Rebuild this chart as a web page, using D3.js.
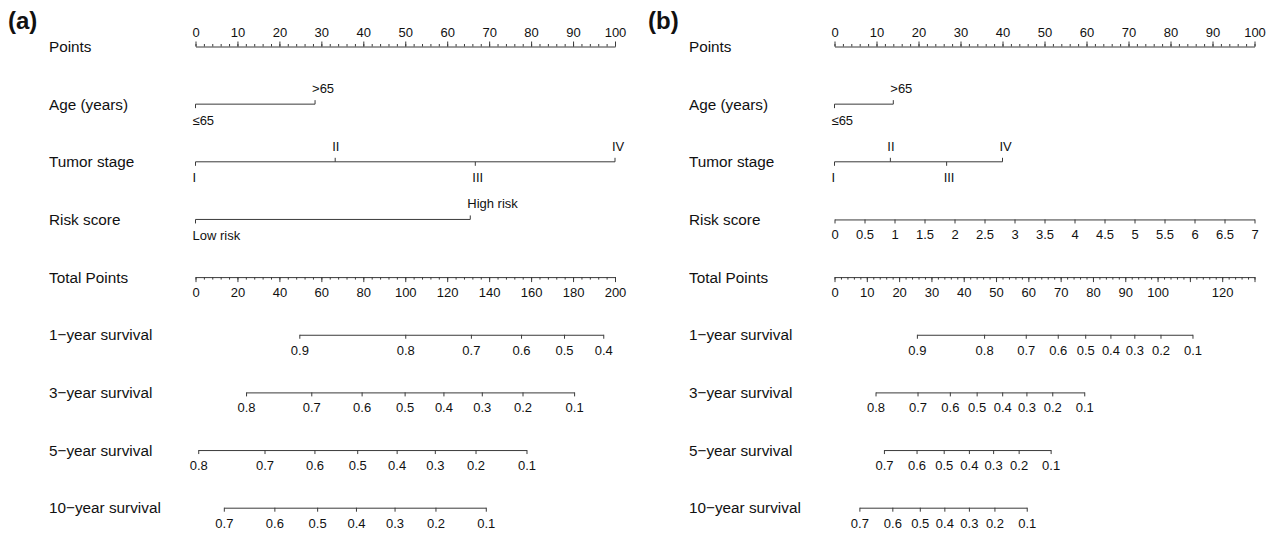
<!DOCTYPE html>
<html>
<head>
<meta charset="utf-8">
<script src="https://cdn.jsdelivr.net/npm/d3@7/dist/d3.min.js"></script>
<style>
  html, body { margin: 0; padding: 0; background: #fff; }
  svg { display: block; font-family: "Liberation Sans", Arial, Helvetica, sans-serif; }
</style>
</head>
<body>
<svg id="chart" width="1277" height="537"></svg>
<script>
// Row names of the nomogram (same for both models)
const rowNames = ["Points", "Age (years)", "Tumor stage", "Risk score", "Total Points",
  "1\u2212year survival", "3\u2212year survival", "5\u2212year survival", "10\u2212year survival"];

// Points scale tick labels
const pointsTicks = d3.range(0, 101, 10);
const pointsMinor = d3.range(0, 101, 2);

// Categorical predictors
const ageLabels = ["\u226465", ">65"];
const stageLabels = ["I", "II", "III", "IV"];
const riskLabelsA = ["Low risk", "High risk"];

// Model (a): points per category
const agePointsA = [0, 28.5];
const stagePointsA = [0, 33.3, 66.7, 100];
const riskPointsA = [0, 65.5];

// Model (a): total points axis
const totalMaxA = 200;
const totalTicksA = d3.range(0, 201, 20);
const totalMinorA = d3.range(0, 201, 4);

// Model (a): survival probabilities and their total-points positions
const surv1LabelsA = [0.9, 0.8, 0.7, 0.6, 0.5, 0.4];
const surv1PointsA = [49.5, 100, 131.3, 155.2, 175.7, 194.4];
const surv3LabelsA = [0.8, 0.7, 0.6, 0.5, 0.4, 0.3, 0.2, 0.1];
const surv3PointsA = [24.1, 55.2, 79.2, 99.7, 118.2, 136.5, 155.9, 180.5];
const surv5LabelsA = [0.8, 0.7, 0.6, 0.5, 0.4, 0.3, 0.2, 0.1];
const surv5PointsA = [1.3, 32.9, 56.7, 77.1, 95.9, 114.1, 133.5, 157.8];
const surv10LabelsA = [0.7, 0.6, 0.5, 0.4, 0.3, 0.2, 0.1];
const surv10PointsA = [13.5, 37.6, 58.0, 76.5, 94.9, 114.4, 138.4];

// Model (b): points per category, continuous risk score
const agePointsB = [0, 14];
const stagePointsB = [0, 13.3, 26.7, 40];
const riskScoreMaxB = 7;
const riskScoreTicksB = d3.range(0, 7.01, 0.5);

// Model (b): total points axis
const totalMaxB = 130;
const totalMajorB = d3.range(0, 131, 10);
const totalLabelsB = [0, 10, 20, 30, 40, 50, 60, 70, 80, 90, 100, 120];
const totalMinorB = d3.range(0, 131, 2);

// Model (b): survival probabilities and their total-points positions
const surv1LabelsB = [0.9, 0.8, 0.7, 0.6, 0.5, 0.4, 0.3, 0.2, 0.1];
const surv1PointsB = [25.5, 46.3, 59.2, 69.1, 77.6, 85.4, 92.8, 100.9, 110.8];
const surv3LabelsB = [0.8, 0.7, 0.6, 0.5, 0.4, 0.3, 0.2, 0.1];
const surv3PointsB = [12.7, 25.7, 35.7, 44.0, 51.9, 59.4, 67.4, 77.3];
const surv5LabelsB = [0.7, 0.6, 0.5, 0.4, 0.3, 0.2, 0.1];
const surv5PointsB = [15.3, 25.4, 33.8, 41.6, 49.1, 57.0, 66.9];
const surv10LabelsB = [0.7, 0.6, 0.5, 0.4, 0.3, 0.2, 0.1];
const surv10PointsB = [7.7, 17.9, 26.4, 34.0, 41.6, 49.5, 59.5];

const LINE = "#3a3a3a";
const TXT = "#111";
const ROW_FONT = 15.3;
const TICK_FONT = 13;

const svg = d3.select("#chart");
const rowY = d3.scalePoint().domain(rowNames).range([46.5, 507.7]);
const fmt1 = d3.format(".1f");

function styleAxis(sel) {
  sel.attr("font-family", null).attr("font-size", null);
  sel.selectAll("path.domain").attr("stroke", LINE).attr("stroke-width", 1);
  sel.selectAll(".tick line").attr("stroke", LINE).attr("stroke-width", 1);
  sel.selectAll(".tick text").attr("fill", TXT).attr("font-size", TICK_FONT);
}

// Axis with alternating tick directions for categorical predictors
function categoryAxis(g, scale, y, labels, pts) {
  const a = g.append("g").attr("class", "cat-axis");
  a.append("line")
    .attr("x1", scale(pts[0])).attr("x2", scale(pts[pts.length - 1]))
    .attr("y1", y).attr("y2", y)
    .attr("stroke", LINE).attr("stroke-width", 1);
  const items = labels.map((l, i) => ({ label: l, p: pts[i], dir: i % 2 === 0 ? 1 : -1 }));
  a.selectAll("line.tk").data(items).join("line").attr("class", "tk")
    .attr("x1", d => scale(d.p)).attr("x2", d => scale(d.p))
    .attr("y1", y).attr("y2", d => y + d.dir * 4)
    .attr("stroke", LINE).attr("stroke-width", 1);
  a.selectAll("text").data(items).join("text")
    .attr("x", d => scale(d.p) - 3)
    .attr("y", d => d.dir > 0 ? y + 20.5 : y - 11)
    .attr("text-anchor", "start")
    .attr("font-size", TICK_FONT).attr("fill", TXT)
    .text(d => d.label);
}

// Survival probability axis placed on the total-points scale
function survivalAxis(g, total, y, labels, pts) {
  const sub = total.copy()
    .domain([pts[0], pts[pts.length - 1]])
    .range([total(pts[0]), total(pts[pts.length - 1])]);
  g.append("g").attr("transform", `translate(0,${y})`)
    .call(d3.axisBottom(sub).tickValues(pts).tickFormat((d, i) => fmt1(labels[i]))
      .tickSize(4).tickPadding(6.8).tickSizeOuter(0))
    .call(styleAxis);
}

function drawPanel(cfg) {
  const g = svg.append("g");
  g.append("text").attr("x", cfg.tagX).attr("y", 28.5)
    .attr("font-size", 24).attr("font-weight", "bold").attr("fill", TXT).text(cfg.tag);

  g.selectAll("text.row").data(rowNames).join("text").attr("class", "row")
    .attr("x", cfg.labelX).attr("y", d => rowY(d) + 5.5)
    .attr("font-size", ROW_FONT).attr("fill", TXT).text(d => d);

  const pts = d3.scaleLinear().domain([0, 100]).range([cfg.x0, cfg.x1]);
  const yP = rowY(rowNames[0]);
  g.append("g").attr("transform", `translate(0,${yP})`)
    .call(d3.axisTop(pts).tickValues(pointsMinor).tickFormat("").tickSize(2.5).tickSizeOuter(0))
    .call(styleAxis);
  g.append("g").attr("transform", `translate(0,${yP})`)
    .call(d3.axisTop(pts).tickValues(pointsTicks).tickSize(5).tickPadding(5).tickSizeOuter(0))
    .call(styleAxis)
    .call(s => s.select("path.domain").remove());

  categoryAxis(g, pts, rowY(rowNames[1]), ageLabels, cfg.agePoints);
  categoryAxis(g, pts, rowY(rowNames[2]), stageLabels, cfg.stagePoints);
  cfg.drawRisk(g, pts, rowY(rowNames[3]));

  const total = d3.scaleLinear().domain([0, cfg.totalMax]).range([cfg.x0, cfg.x1]);
  const yT = rowY(rowNames[4]);
  g.append("g").attr("transform", `translate(0,${yT})`)
    .call(d3.axisBottom(total).tickValues(cfg.totalMinor).tickFormat("").tickSize(2.5).tickSizeOuter(0))
    .call(styleAxis);
  g.append("g").attr("transform", `translate(0,${yT})`)
    .call(d3.axisBottom(total).tickValues(cfg.totalMajor)
      .tickFormat(d => cfg.totalLabels.includes(d) ? d : "")
      .tickSize(5).tickPadding(5.8).tickSizeOuter(0))
    .call(styleAxis)
    .call(s => s.select("path.domain").remove());

  cfg.surv.forEach((s, i) => survivalAxis(g, total, rowY(rowNames[5 + i]), s[0], s[1]));
}

drawPanel({
  tag: "(a)", tagX: 8, labelX: 49, x0: 195.5, x1: 615,
  agePoints: agePointsA, stagePoints: stagePointsA,
  drawRisk: (g, pts, y) => categoryAxis(g, pts, y, riskLabelsA, riskPointsA),
  totalMax: totalMaxA, totalMajor: totalTicksA, totalLabels: totalTicksA, totalMinor: totalMinorA,
  surv: [[surv1LabelsA, surv1PointsA], [surv3LabelsA, surv3PointsA],
         [surv5LabelsA, surv5PointsA], [surv10LabelsA, surv10PointsA]]
});

drawPanel({
  tag: "(b)", tagX: 648, labelX: 689, x0: 834.5, x1: 1254.5,
  agePoints: agePointsB, stagePoints: stagePointsB,
  drawRisk: (g, pts, y) => {
    const risk = d3.scaleLinear().domain([0, riskScoreMaxB]).range(pts.range());
    g.append("g").attr("transform", `translate(0,${y})`)
      .call(d3.axisBottom(risk).tickValues(riskScoreTicksB).tickFormat(d => String(+d.toFixed(1)))
        .tickSize(4).tickPadding(6.8).tickSizeOuter(0))
      .call(styleAxis);
  },
  totalMax: totalMaxB, totalMajor: totalMajorB, totalLabels: totalLabelsB, totalMinor: totalMinorB,
  surv: [[surv1LabelsB, surv1PointsB], [surv3LabelsB, surv3PointsB],
         [surv5LabelsB, surv5PointsB], [surv10LabelsB, surv10PointsB]]
});
</script>
</body>
</html>
